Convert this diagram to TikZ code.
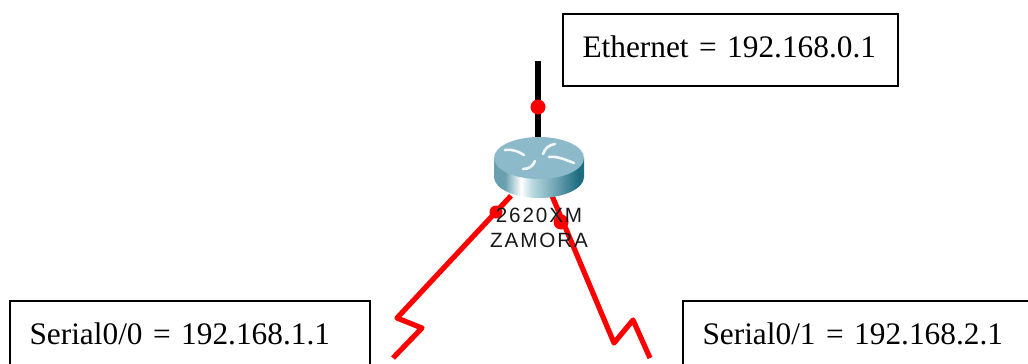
\documentclass[tikz,border=0pt]{standalone}
\usepackage{fontspec}
\setmainfont[WordSpace=0.8]{Liberation Serif}
\newfontfamily\labelfont[LetterSpace=9]{Liberation Sans}
\definecolor{routerdark}{RGB}{30,108,128}
\definecolor{routermid}{RGB}{105,160,176}
\definecolor{routerlight}{RGB}{185,218,226}
\definecolor{routertop}{RGB}{140,186,202}
\pgfdeclarehorizontalshading{routerside}{100bp}{color(0bp)=(routermid);color(25bp)=(routermid);color(31bp)=(routermid);color(40bp)=(white);color(46bp)=(routerlight);color(60bp)=(routermid);color(72bp)=(routerdark);color(100bp)=(routerdark)}
\newdimen\pxu
\pxu=0.75pt
\tikzset{
  ipbox/.style={draw,line width=1.5pt,anchor=north west,inner xsep=19.5\pxu,inner ysep=0pt,text height=43\pxu,text depth=29\pxu,align=left,font=\fontsize{23.5}{28}\selectfont},
  serial/.style={draw=red,line width=5.2\pxu,line join=round},
  ether/.style={draw=black,line width=6\pxu},
  linkdot/.style={circle,fill=red,inner sep=0pt,minimum size=15\pxu},
  routerlabel/.style={font=\fontsize{15.5}{19}\labelfont,text=black!90,align=center,inner sep=0pt},
  glyph/.style={draw=white!88!routertop,line width=2.6\pxu,line cap=round,line join=round}
}
\begin{document}
\begin{tikzpicture}[x=0.75pt,y=-0.75pt]
\useasboundingbox (0,0) rectangle (1028,364);
\clip (0,0) rectangle (1028,364);

% Text boxes
\node[ipbox,text width=296\pxu] (eth) at (562,13) {\mbox{Ethernet = 192.168.0.1}};
\node[ipbox,text width=321\pxu] (ser0) at (9,300) {\mbox{Serial0/0 = 192.168.1.1}};
\node[ipbox,text width=320\pxu] (ser1) at (682,300) {\mbox{Serial0/1 = 192.168.2.1}};

% The router sits here
\node[minimum width=90\pxu,minimum height=61\pxu,inner sep=0pt] (zamora) at (539,168) {};

% Free ends of the links
\coordinate (EthEnd) at (538,61);
\coordinate (A1) at (397,318);
\coordinate (A2) at (422,328);
\coordinate (A3) at (393,358);
\coordinate (B1) at (614,343);
\coordinate (B2) at (633,320);
\coordinate (B3) at (650,358);

% Links
\draw[ether] (EthEnd) -- (EthEnd |- zamora.north);
\draw[serial] (zamora.south) ++(-28,-3) -- (A1) -- (A2) -- (A3);
\draw[serial] (zamora.south) ++(13,-3) -- (B1) -- (B2) -- (B3);

% Red link lights
\node[linkdot] (l1) at (538,107) {};
\node[linkdot,minimum size=13\pxu] (l2) at (496,212) {};
\node[linkdot] (l3) at (561,222) {};

% Draw the router
\def\rx{45}
\def\ry{21}
\path[shading=routerside] (494,158) -- (494,177) arc (180:0:{\rx} and {\ry}) -- (584,158) -- cycle;
\fill[routertop] (539,158) ellipse({\rx} and {\ry});
\draw[glyph] (505,150) .. controls (514,149) and (519,152) .. (524,155);
\draw[glyph] (555,144) .. controls (549,145) and (545,148) .. (543,154);
\draw[glyph] (549,157) .. controls (558,156) and (566,160) .. (574,163);
\draw[glyph] (523,169) .. controls (529,169) and (533,166) .. (535,161);

% Router labels
\node[routerlabel] (name) at (539,228) {2620XM\\ZAMORA};
\end{tikzpicture}
\end{document}
